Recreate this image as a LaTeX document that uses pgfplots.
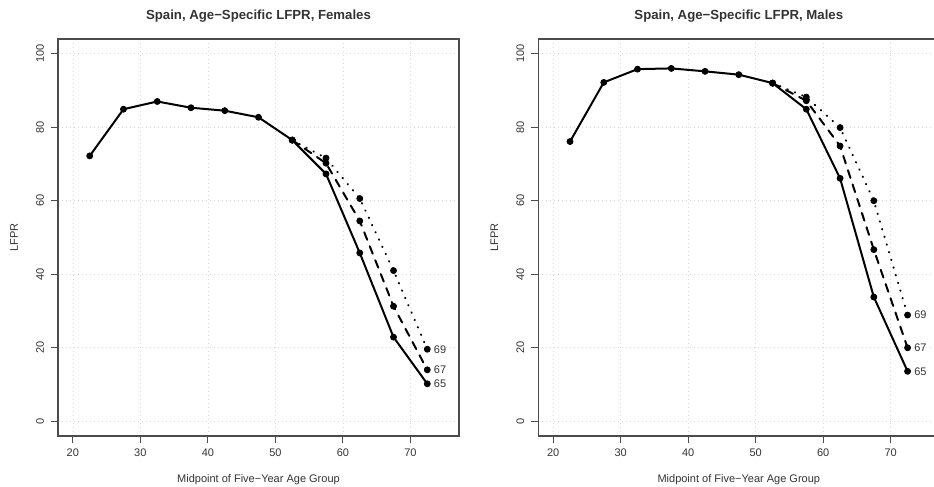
\documentclass[border=0pt]{standalone}
\usepackage{pgfplots}
\pgfplotsset{compat=1.18}
\usepackage{fontspec}
\setmainfont{Liberation Sans}

\definecolor{framegray}{gray}{0.3}
\definecolor{textgray}{gray}{0.2}

\tikzset{
  agelabel/.style={anchor=west, xshift=6.5bp, inner sep=0pt, font=\fontsize{11bp}{13bp}\selectfont, text=textgray},
}

\pgfplotsset{
  lfprpanel/.style={
    scale only axis,
    width=401bp, height=397bp,
    xmin=17.8, xmax=77.2,
    ymin=-4, ymax=104,
    xtick={20,30,40,50,60,70},
    ytick={0,20,40,60,80,100},
    xtick pos=left, ytick pos=left,
    tick align=outside,
    major tick length=7bp,
    tick style={framegray, line width=0.9bp},
    axis line style={framegray, line width=1.2bp},
    grid=major,
    grid style={dash pattern=on 0.8bp off 3.2bp, gray!30, line width=0.7bp},
    clip=false,
    /pgf/number format/assume math mode=true,
    every tick label/.append style={font=\fontsize{11bp}{13bp}\selectfont, text=textgray},
    xticklabel style={anchor=center, yshift=-10bp},
    yticklabel style={anchor=center, xshift=-11bp, rotate=90},
    every axis title/.style={at={(axis description cs:0.5,1)}, yshift=23bp, anchor=center,
      font=\bfseries\fontsize{13.2bp}{15bp}\selectfont, text=textgray},
    every axis x label/.style={at={(axis description cs:0.5,0)}, yshift=-44bp, anchor=center,
      font=\fontsize{11bp}{13bp}\selectfont, text=textgray},
    every axis y label/.style={at={(axis description cs:0,0.5)}, xshift=-44bp, rotate=90, anchor=center,
      font=\fontsize{11bp}{13bp}\selectfont, text=textgray},
    xlabel={Midpoint of Five\textminus Year Age Group},
    ylabel={LFPR},
  },
  retmark/.style={mark=*, mark size=3bp, mark options={solid, fill=black, line width=0.8bp}},
  ret65/.style={black, line width=2bp, solid, retmark},
  ret67/.style={black, line width=2bp, dash pattern=on 8bp off 7bp, line cap=round, retmark},
  ret69/.style={black, line width=2bp, dash pattern=on 0.5bp off 7.5bp, line cap=round, retmark},
}

\begin{document}
\begin{tikzpicture}

% Females
\begin{axis}[lfprpanel, at={(58bp,51bp)}, anchor=south west,
  title={Spain, Age\textminus Specific LFPR, Females}]
  \addplot[ret69] coordinates {(52.5,76.5) (57.5,71.6) (62.5,60.6) (67.5,41.0) (72.5,19.6)};
  \addplot[ret67] coordinates {(52.5,76.5) (57.5,70.2) (62.5,54.5) (67.5,31.3) (72.5,14.0)};
  \addplot[ret65] coordinates {(22.5,72.2) (27.5,84.9) (32.5,87.0) (37.5,85.3) (42.5,84.5)
    (47.5,82.7) (52.5,76.5) (57.5,67.3) (62.5,45.8) (67.5,22.9) (72.5,10.2)};
  \node[agelabel] at (axis cs:72.5,19.6) {69};
  \node[agelabel] at (axis cs:72.5,14.0) {67};
  \node[agelabel] at (axis cs:72.5,10.2) {65};
\end{axis}

% Males
\begin{axis}[lfprpanel, at={(538.3bp,51bp)}, anchor=south west,
  title={Spain, Age\textminus Specific LFPR, Males}]
  \addplot[ret69] coordinates {(52.5,92.0) (57.5,88.2) (62.5,79.9) (67.5,60.0) (72.5,28.9)};
  \addplot[ret67] coordinates {(52.5,92.0) (57.5,87.2) (62.5,74.9) (67.5,46.7) (72.5,20.0)};
  \addplot[ret65] coordinates {(22.5,76.1) (27.5,92.2) (32.5,95.8) (37.5,96.0) (42.5,95.2)
    (47.5,94.3) (52.5,92.0) (57.5,84.9) (62.5,66.1) (67.5,33.8) (72.5,13.6)};
  \node[agelabel] at (axis cs:72.5,28.9) {69};
  \node[agelabel] at (axis cs:72.5,20.0) {67};
  \node[agelabel] at (axis cs:72.5,13.6) {65};
\end{axis}

\pgfresetboundingbox
\path[use as bounding box] (0,0) rectangle (934bp,487bp);
\end{tikzpicture}
\end{document}
